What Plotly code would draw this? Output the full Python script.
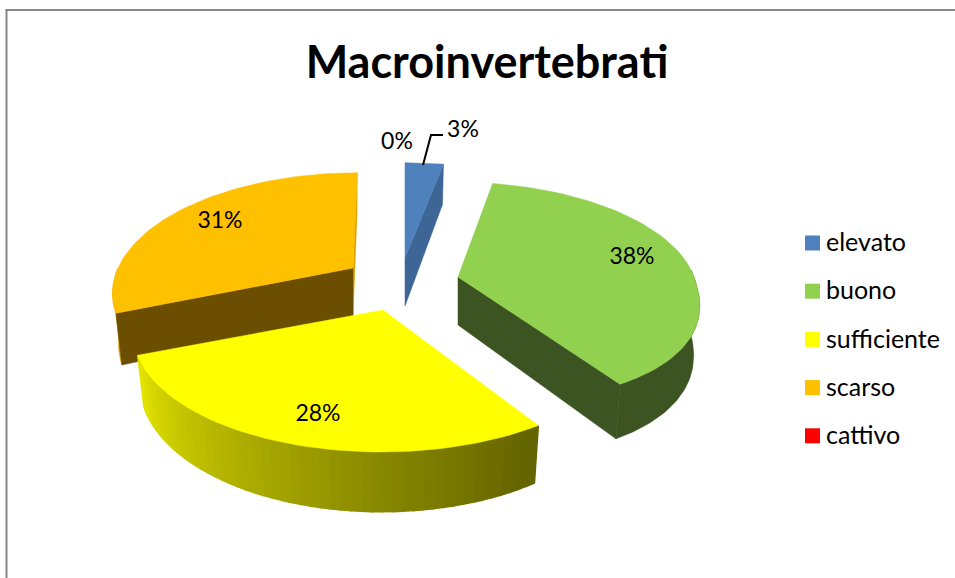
import math
import plotly.graph_objects as go

categories = ["elevato", "buono", "sufficiente", "scarso", "cattivo"]
values = [3, 38, 28, 31, 0]
top_colors = ["#4f81bd", "#92d050", "#ffff00", "#ffc000", "#ff0000"]

# layout of the exploded, tilted pie (pixels): cx, cy, A, B, K, lower-half squareness
geom = {"elevato": (405, 258, 245, 114, 0.197, 1.0),
        "buono": (458, 277, 236, 108.5, 0.142, 0.85),
        "sufficiente": (383, 310, 244, 114, 0.197, 1.0),
        "scarso": (353, 268, 235, 114, 0.197, 1.0)}
label_pos = {"elevato": (463, 131), "buono": (632, 258), "sufficiente": (318, 415),
             "scarso": (220, 222), "cattivo": (397, 143)}
cut_colors = {"elevato": "#3d6595", "buono": "#3c5322", "scarso": "#6b4e00"}
wall_colors = {"buono": "#3c5322", "scarso": "#d9a300"}
DEPTH, SHRINK, VX = 48, 0.975, 405


def project(name, frac, r=1.0, lower=False):
    cx, cy, A, B, K, p = geom[name]
    th = 2 * math.pi * frac
    s, c = math.sin(th), math.cos(th)
    if c < 0:
        s = math.copysign(abs(s) ** p, s)
        c = -(abs(c) ** p)
    u, v = r * s, r * c
    d = 1 + K * v
    dx = A * u / d + (VX - cx) * 0.08 * v
    dy = -B * v / d
    if lower:
        return cx + dx * SHRINK, cy + dy + DEPTH / d
    return cx + dx, cy + dy


def arc(name, a, b, lower=False, n=60):
    pts = [project(name, a + (b - a) * i / n, lower=lower) for i in range(n + 1)]
    return [p[0] for p in pts], [p[1] for p in pts]


def poly(xs, ys, color, lw=0.5):
    return go.Scatter(x=xs, y=ys, mode="lines", fill="toself", fillcolor=color,
                      line=dict(color=color, width=lw), hoverinfo="skip", showlegend=False)


total = sum(values)
spans = {}
acc = 0
for c, val in zip(categories, values):
    spans[c] = (acc / total, (acc + val) / total)
    acc += val

# part of each outer wall that shows below the top face
wall_spans = {"buono": (0.24, spans["buono"][1]), "scarso": (spans["scarso"][0], 0.75)}
# cut faces that show
cut_edges = {"elevato": "b", "buono": "b", "scarso": "ba"}

fig = go.Figure()

for name in ["scarso", "elevato", "buono", "sufficiente"]:
    a, b = spans[name]
    top = top_colors[categories.index(name)]
    cx, cy = geom[name][:2]
    # outer wall
    if name == "sufficiente":
        n = 50
        for i in range(n):
            f0, f1 = a + (b - a) * i / n, a + (b - a) * (i + 1) / n
            p = [project(name, f0), project(name, f1), project(name, f1, lower=True), project(name, f0, lower=True)]
            t = i / (n - 1)
            g = int(100 + 128 * t ** 1.1)
            fig.add_trace(poly([q[0] for q in p] + [p[0][0]], [q[1] for q in p] + [p[0][1]],
                               f"rgb({g},{g},0)", lw=1.5))
    elif name in wall_spans:
        w0, w1 = wall_spans[name]
        x1, y1 = arc(name, w0, w1)
        x2, y2 = arc(name, w0, w1, lower=True)
        fig.add_trace(poly(x1 + x2[::-1] + [x1[0]], y1 + y2[::-1] + [y1[0]], wall_colors[name], lw=0.5))
    # cut faces
    for key in cut_edges.get(name, ""):
        edge = a if key == "a" else b
        col = cut_colors[name] if (key == "a" or name != "scarso") else wall_colors[name]
        p1 = project(name, edge)
        p2 = project(name, edge, lower=True)
        p3 = project(name, edge, r=0, lower=True)
        fig.add_trace(poly([cx, p1[0], p2[0], p3[0], cx], [cy, p1[1], p2[1], p3[1], cy], col, lw=0.5))
    # top face
    x1, y1 = arc(name, a, b)
    fig.add_trace(poly([cx] + x1 + [cx], [cy] + y1 + [cy], top))

# leader line
fig.add_trace(go.Scatter(x=[423, 431, 443], y=[165, 135, 135], mode="lines",
                         line=dict(color="#000000", width=2), hoverinfo="skip", showlegend=False))

# data labels
fig.add_trace(go.Scatter(
    x=[label_pos[c][0] for c in categories], y=[label_pos[c][1] for c in categories],
    text=[f"{v}%" for v in values], mode="text", textposition="middle center",
    textfont=dict(family="Lato", size=23, color="#000000"), hoverinfo="skip", showlegend=False))

# legend: square swatch + label per category
legend_y = [243 + 48.2 * i for i in range(len(categories))]
fig.add_trace(go.Scatter(x=[812.5] * len(categories), y=legend_y, mode="markers",
                         marker=dict(symbol="square", size=15, color=top_colors, line=dict(width=0)),
                         hoverinfo="skip", showlegend=False))
fig.add_trace(go.Scatter(x=[826] * len(categories), y=[v + 2 for v in legend_y], mode="text", text=categories,
                         textposition="middle right",
                         textfont=dict(family="Lato", size=25, color="#000000"),
                         hoverinfo="skip", showlegend=False))

fig.update_layout(
    width=955, height=578, margin=dict(l=0, r=0, t=0, b=0),
    paper_bgcolor="#ffffff", plot_bgcolor="#ffffff", autosize=False, showlegend=False,
    xaxis=dict(range=[0, 955], visible=False, fixedrange=True),
    yaxis=dict(range=[578, 0], visible=False, fixedrange=True),
    title=dict(text="<b>Macroinvertebrati</b>", x=487 / 955, y=1 - 62 / 578, xanchor="center", yanchor="middle",
               font=dict(family="Lato", size=45, color="#000000")),
    shapes=[dict(type="path", path="M 6.5 578 L 6.5 10 L 955 10", xref="x", yref="y",
                 line=dict(color="#868686", width=2))],
)
fig.write_html("out.html", config={"displayModeBar": False},
               post_script="document.body.style.margin='0';document.body.style.overflow='hidden';")
